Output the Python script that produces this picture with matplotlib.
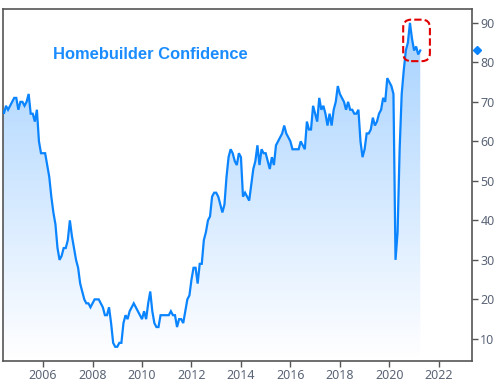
import numpy as np
import matplotlib
matplotlib.use("Agg")
import matplotlib.pyplot as plt
from matplotlib.patches import FancyBboxPatch
import matplotlib.transforms as mtransforms

# NAHB Housing Market Index, monthly, Jan 2004 - Apr 2021
start_year = 2004
hmi = [
    64, 64, 68, 69, 68, 67, 69, 68, 69, 70, 71, 71,   # 2004
    68, 70, 70, 69, 70, 72, 67, 67, 65, 68, 60, 57,   # 2005
    57, 57, 54, 51, 46, 42, 39, 33, 30, 31, 33, 33,   # 2006
    35, 40, 36, 33, 30, 28, 24, 22, 20, 19, 19, 18,   # 2007
    19, 20, 20, 20, 19, 18, 16, 16, 18, 14, 9, 8,     # 2008
    8, 9, 9, 14, 16, 15, 17, 18, 19, 18, 17, 16,      # 2009
    15, 17, 15, 19, 22, 17, 14, 13, 13, 16, 16, 16,   # 2010
    16, 16, 17, 16, 16, 13, 15, 15, 14, 17, 20, 21,   # 2011
    25, 28, 28, 24, 29, 29, 35, 37, 40, 41, 46, 47,   # 2012
    47, 46, 44, 42, 44, 51, 56, 58, 57, 55, 54, 57,   # 2013
    56, 46, 47, 46, 45, 49, 53, 55, 59, 54, 58, 57,   # 2014
    57, 55, 53, 56, 54, 59, 60, 61, 62, 64, 62, 61,   # 2015
    60, 58, 58, 58, 58, 60, 59, 58, 65, 63, 63, 69,   # 2016
    67, 65, 71, 68, 69, 67, 64, 67, 64, 68, 70, 74,   # 2017
    72, 71, 70, 68, 70, 68, 68, 67, 67, 68, 60, 56,   # 2018
    58, 62, 62, 63, 66, 64, 65, 67, 68, 71, 70, 76,   # 2019
    75, 74, 72, 30, 37, 58, 72, 78, 83, 85, 90, 86,   # 2020
    83, 84, 82, 83,                                   # 2021
]
x_ticks = [2006, 2008, 2010, 2012, 2014, 2016, 2018, 2020, 2022]
y_ticks = [10, 20, 30, 40, 50, 60, 70, 80, 90]
title = "Homebuilder Confidence"
latest_value = 83

x = start_year + np.arange(len(hmi)) / 12.0
y = np.array(hmi, dtype=float)

xmin, xmax = 2004.38, 2023.34
ymin, ymax = 4.4, 93.5

fig = plt.figure(figsize=(5.01, 3.83), dpi=100)
ax = fig.add_axes([0.006, 0.0574, 0.936, 0.9191])
ax.set_xlim(xmin, xmax)
ax.set_ylim(ymin, ymax)

# gradient fill under line
poly = ax.fill_between(x, y, ymin, color="none", lw=0)
grad = np.linspace(0, 1, 256).reshape(-1, 1)
rgba = np.zeros((256, 1, 4))
rgba[..., 0] = 0.0
rgba[..., 1] = 0.5
rgba[..., 2] = 1.0
rgba[..., 3] = 0.37 * grad
img = ax.imshow(rgba, extent=[xmin, xmax, ymin, ymax], origin="lower",
                aspect="auto", zorder=1, interpolation="bilinear")
path = poly.get_paths()[0]
img.set_clip_path(path, transform=ax.transData)

ax.plot(x, y, color="#0a84ff", lw=1.6, zorder=3, solid_joinstyle="miter")

# dashed red highlight
box = FancyBboxPatch((2020.56, 80.3), 1.08, 10.5,
                     boxstyle="round,pad=0,rounding_size=0.32",
                     mutation_aspect=6.25, fill=False,
                     edgecolor="#e00000", lw=1.5, ls=(0, (3.5, 1.5)), zorder=4)
ax.add_patch(box)

# diamond marker at latest value
trans = mtransforms.blended_transform_factory(ax.transAxes, ax.transData)
ax.plot([1.011], [latest_value], marker="D", ms=4.5, color="#0a84ff",
        transform=trans, clip_on=False, zorder=5)

ax.text(2006.4, 80.9, title, color="#1a8cff", fontsize=11.9,
        fontweight="bold", family="Liberation Sans", va="baseline", ha="left")

ax.yaxis.tick_right()
ax.set_xticks(x_ticks)
ax.set_yticks(y_ticks)
for sp in ax.spines.values():
    sp.set_color("#555555")
    sp.set_linewidth(1.2)
ax.tick_params(axis="both", colors="#555555", length=4, width=1,
               labelsize=9, labelcolor="#5b6577")
for lab in ax.get_xticklabels() + ax.get_yticklabels():
    lab.set_family("Noto Sans")
ax.tick_params(axis="y", pad=2)
ax.tick_params(axis="x", pad=2)

fig.savefig("out.png", dpi=100)
